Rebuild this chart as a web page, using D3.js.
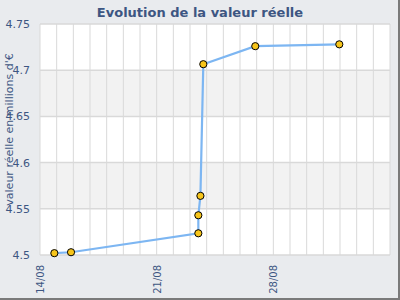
<!DOCTYPE html>
<html>
<head>
<meta charset="utf-8">
<script src="https://cdn.jsdelivr.net/npm/d3@7"></script>
<style>
  body { margin: 0; background: #fff; }
  text { font-family: "DejaVu Sans", sans-serif; }
</style>
</head>
<body>
<div id="chart"></div>
<script>
// values
const dates = ["2012-08-14T20:40", "2012-08-15T20:40", "2012-08-23T12:00", "2012-08-23T12:00",
               "2012-08-23T15:00", "2012-08-23T19:10", "2012-08-26T22:00", "2012-08-31T23:00"];
const values = [4.502, 4.503, 4.5235, 4.543, 4.564, 4.7065, 4.726, 4.728];
const yTicks = [4.5, 4.55, 4.6, 4.65, 4.7, 4.75];
const xTickDates = ["2012-08-14", "2012-08-21", "2012-08-28"];
const title = "Evolution de la valeur réelle";
const yTitle = "valeur réelle en millions d'€";

const parse = d3.timeParse("%Y-%m-%dT%H:%M");
const parseDay = d3.timeParse("%Y-%m-%d");
const data = dates.map((d, i) => ({ date: parse(d), value: values[i] }));

const W = 400, H = 300;
const margin = { top: 24, right: 10, bottom: 45, left: 40 };
const width = W - margin.left - margin.right;
const height = H - margin.top - margin.bottom;

const svg = d3.select("#chart").append("svg")
    .attr("width", W)
    .attr("height", H);

// background + shadow border
svg.append("rect").attr("x", 0).attr("y", 0).attr("width", W).attr("height", H).attr("fill", "#7a7a7a");
svg.append("rect").attr("x", 0).attr("y", 0).attr("width", W - 2).attr("height", H - 2).attr("fill", "#e9ebee");

svg.append("text")
    .attr("x", W / 2)
    .attr("y", 17)
    .attr("text-anchor", "middle")
    .attr("font-size", "13px")
    .attr("font-weight", "bold")
    .attr("fill", "#3d5682")
    .text(title);

const g = svg.append("g").attr("transform", `translate(${margin.left},${margin.top})`);

const x = d3.scaleTime()
    .domain([parseDay("2012-08-14"), parseDay("2012-09-04")])
    .range([0, width]);

const y = d3.scaleLinear()
    .domain([4.5, 4.75])
    .range([height, 0]);

// alternating bands
g.selectAll(".band")
    .data(yTicks.slice(0, -1))
    .enter().append("rect")
    .attr("x", 0)
    .attr("width", width)
    .attr("y", (d, i) => y(yTicks[i + 1]))
    .attr("height", (d, i) => y(d) - y(yTicks[i + 1]))
    .attr("fill", (d, i) => i % 2 === 0 ? "#ffffff" : "#f2f2f2");

// daily vertical grid
g.selectAll(".vgrid")
    .data(d3.timeDay.range(x.domain()[0], d3.timeDay.offset(x.domain()[1], 1)))
    .enter().append("line")
    .attr("x1", d => x(d)).attr("x2", d => x(d))
    .attr("y1", 0).attr("y2", height)
    .attr("stroke", "#d9d9d9")
    .attr("stroke-width", 1);

// horizontal grid
g.selectAll(".hgrid")
    .data(yTicks)
    .enter().append("line")
    .attr("x1", 0).attr("x2", width)
    .attr("y1", d => y(d)).attr("y2", d => y(d))
    .attr("stroke", "#d9d9d9")
    .attr("stroke-width", 1.5);

// y tick labels
g.selectAll(".ylab")
    .data(yTicks)
    .enter().append("text")
    .attr("x", -10)
    .attr("y", d => y(d) + 4)
    .attr("text-anchor", "end")
    .attr("font-size", "11px")
    .attr("fill", "#3d5682")
    .text(d => d3.format("")(d));

// x tick labels
const fmt = d3.timeFormat("%d/%m");
g.selectAll(".xlab")
    .data(xTickDates.map(parseDay))
    .enter().append("text")
    .attr("transform", d => `translate(${x(d) + 4},${height + 10}) rotate(-90)`)
    .attr("text-anchor", "end")
    .attr("font-size", "10px")
    .attr("fill", "#3d5682")
    .text(d => fmt(d));

// y axis title
svg.append("text")
    .attr("transform", `translate(13,${margin.top + height / 2 - 10}) rotate(-90)`)
    .attr("text-anchor", "middle")
    .attr("font-size", "11px")
    .attr("fill", "#3d5682")
    .text(yTitle);

// line
const line = d3.line()
    .x(d => x(d.date))
    .y(d => y(d.value));

g.append("path")
    .datum(data)
    .attr("fill", "none")
    .attr("stroke", "#7db6f2")
    .attr("stroke-width", 2.2)
    .attr("d", line);

g.selectAll(".pt")
    .data(data)
    .enter().append("circle")
    .attr("cx", d => x(d.date))
    .attr("cy", d => y(d.value))
    .attr("r", 3.6)
    .attr("fill", "#f7c51a")
    .attr("stroke", "#000")
    .attr("stroke-width", 1);
</script>
</body>
</html>
